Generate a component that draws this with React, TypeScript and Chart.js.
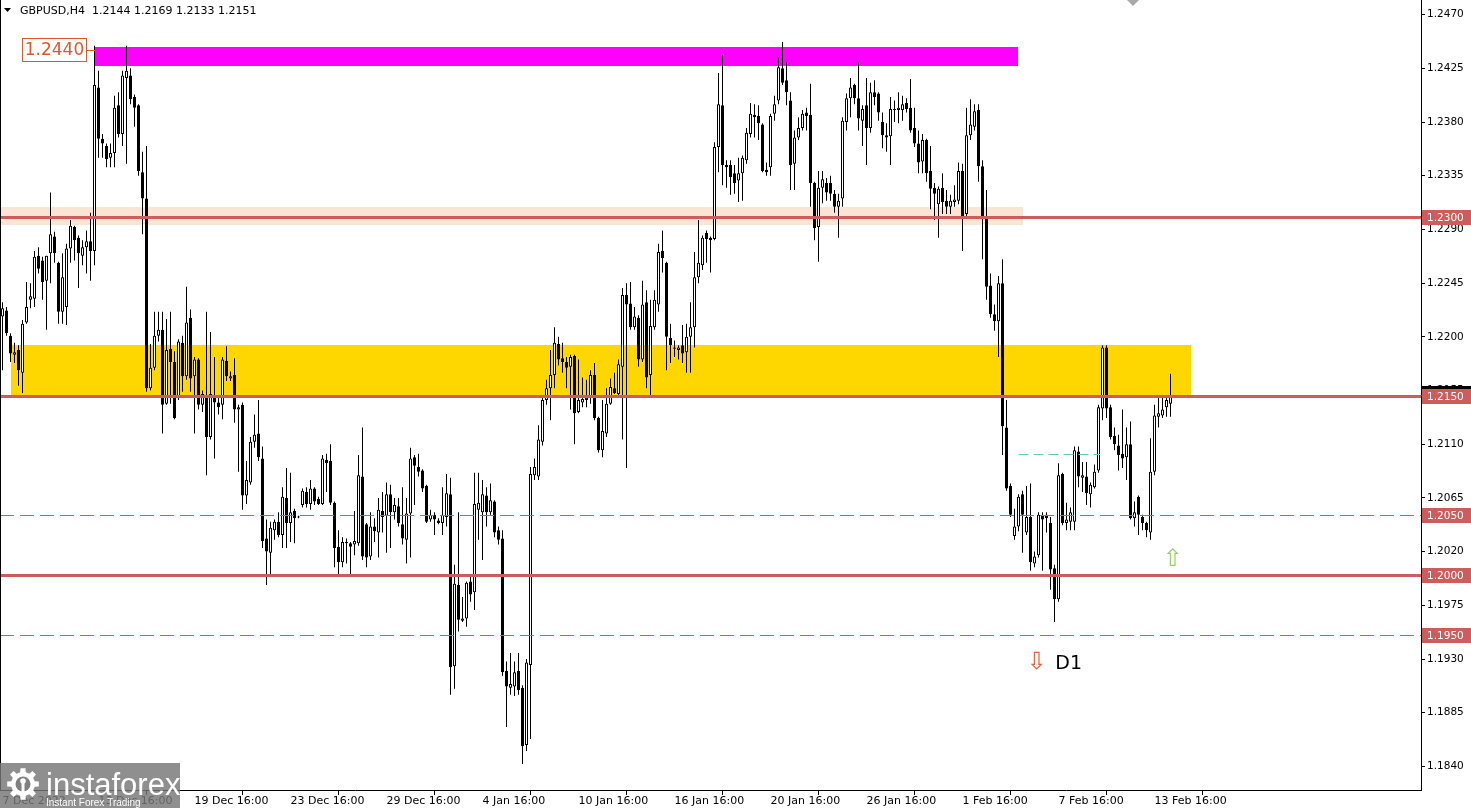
import { useEffect, useRef } from "react";
import { Chart, registerables } from "chart.js";

Chart.register(...registerables);

// ---- candle data (GBPUSD H4), bar index 0 = 7 Dec 2022 16:00 ----
const opens = [
  1.2217,1.2222,1.2201,1.2185,1.2189,1.2170,1.2212,1.2231,1.2232,1.2268,
  1.2264,1.2247,1.2270,1.2284,1.2262,1.2221,1.2225,1.2274,1.2292,1.2283,
  1.2268,1.2275,1.2280,1.2272,1.2409,1.2366,1.2360,1.2350,1.2354,1.2394,
  1.2370,1.2417,1.2419,1.2401,1.2394,1.2338,1.2316,1.2157,1.2174,1.2201,
  1.2206,1.2144,1.2190,1.2179,1.2149,1.2195,1.2167,1.2216,1.2167,1.2181,
  1.2143,1.2150,1.2116,1.2150,1.2145,1.2143,1.2180,1.2165,1.2168,1.2139,
  1.2143,1.2067,1.2078,1.2112,1.2119,1.2098,1.2031,1.2019,1.2038,1.2045,
  1.2034,1.2065,1.2044,1.2054,1.2049,1.2059,1.2070,1.2060,1.2073,1.2064,
  1.2060,1.2097,1.2096,1.2061,1.2024,1.2011,1.2027,1.2027,1.2026,1.2027,
  1.2083,1.2043,1.2016,1.2041,1.2036,1.2054,1.2050,1.2068,1.2053,1.2058,
  1.2043,1.2030,1.2052,1.2099,1.2091,1.2088,1.2075,1.2047,1.2051,1.2046,
  1.2044,1.2049,1.2068,1.1924,1.1992,1.1962,1.1964,1.1995,1.1986,1.2055,
  1.2053,1.2067,1.2053,1.2062,1.2038,1.2031,1.1920,1.1906,1.1907,1.1920,
  1.1906,1.1858,1.1925,1.2084,1.2083,1.2112,1.2147,1.2157,1.2168,1.2194,
  1.2182,1.2179,1.2175,1.2184,1.2137,1.2145,1.2147,1.2149,1.2168,1.2132,
  1.2105,1.2119,1.2144,1.2157,1.2152,1.2175,1.2235,1.2228,1.2208,1.2216,
  1.2181,1.2229,1.2168,1.2208,1.2227,1.2272,1.2262,1.2199,1.2190,1.2189,
  1.2193,1.2187,1.2200,1.2208,1.2250,1.2260,1.2287,1.2283,1.2282,1.2359,
  1.2394,1.2344,1.2344,1.2337,1.2331,1.2337,1.2348,1.2370,1.2386,1.2385,
  1.2378,1.2340,1.2342,1.2387,1.2398,1.2425,1.2415,1.2398,1.2345,1.2367,
  1.2375,1.2388,1.2386,1.2329,1.2292,1.2325,1.2329,1.2329,1.2320,1.2309,
  1.2316,1.2380,1.2400,1.2411,1.2400,1.2381,1.2394,1.2375,1.2405,1.2404,
  1.2380,1.2369,1.2368,1.2390,1.2390,1.2390,1.2396,1.2392,1.2375,1.2362,
  1.2347,1.2365,1.2339,1.2325,1.2311,1.2325,1.2314,1.2309,1.2313,1.2314,
  1.2339,1.2303,1.2369,1.2376,1.2390,1.2343,1.2301,1.2243,1.2219,1.2213,
  1.2245,1.2124,1.2075,1.2033,1.2041,1.2068,1.2036,1.2049,1.2010,1.2017,
  1.2051,1.2051,1.2044,1.2006,1.1980,1.2085,1.2044,1.2045,1.2045,1.2104,
  1.2082,1.2083,1.2068,1.2074,1.2088,1.2140,1.2191,1.2141,1.2117,1.2109,
  1.2102,1.2099,1.2110,1.2048,1.2066,1.2049,1.2044,1.2036,1.2087,1.2133,
  1.2134,1.2141,1.2144,
];
const highs = [
  1.2229,1.2225,1.2203,1.2195,1.2193,1.2214,1.2246,1.2245,1.2272,1.2275,
  1.2267,1.2268,1.2321,1.2288,1.2263,1.2270,1.2278,1.2298,1.2293,1.2285,
  1.2281,1.2289,1.2304,1.2444,1.2423,1.2370,1.2362,1.2362,1.2402,1.2405,
  1.2423,1.2444,1.2425,1.2403,1.2395,1.2355,1.2360,1.2194,1.2221,1.2221,
  1.2221,1.2215,1.2221,1.2188,1.2198,1.2201,1.2242,1.2223,1.2183,1.2182,
  1.2155,1.2221,1.2204,1.2183,1.2151,1.2183,1.2192,1.2171,1.2182,1.2143,
  1.2145,1.2096,1.2116,1.2135,1.2147,1.2108,1.2047,1.2045,1.2047,1.2053,
  1.2074,1.2090,1.2086,1.2056,1.2050,1.2073,1.2074,1.2080,1.2074,1.2066,
  1.2101,1.2102,1.2110,1.2062,1.2038,1.2032,1.2031,1.2028,1.2054,1.2101,
  1.2124,1.2044,1.2053,1.2048,1.2065,1.2070,1.2078,1.2076,1.2065,1.2065,
  1.2074,1.2065,1.2107,1.2101,1.2102,1.2089,1.2076,1.2055,1.2053,1.2048,
  1.2074,1.2085,1.2082,1.2009,1.2053,1.1982,1.1995,1.1999,1.2086,1.2086,
  1.2080,1.2074,1.2077,1.2063,1.2041,1.2038,1.1928,1.1935,1.1928,1.1935,
  1.1908,1.1930,1.2091,1.2098,1.2126,1.2151,1.2164,1.2189,1.2208,1.2200,
  1.2195,1.2183,1.2185,1.2185,1.2181,1.2166,1.2164,1.2172,1.2178,1.2133,
  1.2147,1.2157,1.2165,1.2170,1.2181,1.2241,1.2245,1.2246,1.2225,1.2218,
  1.2247,1.2239,1.2231,1.2239,1.2278,1.2289,1.2263,1.2211,1.2197,1.2193,
  1.2210,1.2211,1.2229,1.2271,1.2298,1.2285,1.2289,1.2284,1.2363,1.2421,
  1.2436,1.2348,1.2348,1.2344,1.2350,1.2352,1.2375,1.2396,1.2395,1.2394,
  1.2379,1.2346,1.2387,1.2402,1.2434,1.2447,1.2430,1.2405,1.2373,1.2384,
  1.2390,1.2392,1.2412,1.2330,1.2339,1.2339,1.2333,1.2335,1.2323,1.2320,
  1.2384,1.2404,1.2417,1.2412,1.2430,1.2394,1.2417,1.2413,1.2415,1.2405,
  1.2388,1.2379,1.2401,1.2398,1.2405,1.2402,1.2400,1.2416,1.2392,1.2373,
  1.2370,1.2366,1.2360,1.2329,1.2326,1.2337,1.2323,1.2319,1.2327,1.2346,
  1.2345,1.2392,1.2399,1.2395,1.2395,1.2348,1.2323,1.2253,1.2227,1.2251,
  1.2265,1.2147,1.2077,1.2056,1.2068,1.2071,1.2075,1.2077,1.2020,1.2053,
  1.2053,1.2053,1.2049,1.2009,1.2094,1.2086,1.2061,1.2057,1.2108,1.2108,
  1.2095,1.2095,1.2078,1.2093,1.2143,1.2193,1.2193,1.2143,1.2124,1.2118,
  1.2139,1.2124,1.2129,1.2062,1.2067,1.2051,1.2045,1.2115,1.2143,1.2149,
  1.2151,1.2151,1.2169,
];
const lows = [
  1.2172,1.2201,1.2179,1.2178,1.2159,1.2153,1.2211,1.2224,1.2225,1.2253,
  1.2231,1.2206,1.2245,1.2262,1.2211,1.2211,1.2210,1.2262,1.2264,1.2241,
  1.2260,1.2253,1.2247,1.2260,1.2350,1.2350,1.2342,1.2342,1.2342,1.2367,
  1.2360,1.2345,1.2395,1.2376,1.2335,1.2286,1.2154,1.2155,1.2172,1.2196,
  1.2119,1.2143,1.2144,1.2131,1.2147,1.2154,1.2164,1.2154,1.2119,1.2139,
  1.2137,1.2084,1.2114,1.2098,1.2135,1.2131,1.2163,1.2163,1.2128,1.2087,
  1.2055,1.2060,1.2076,1.2107,1.2096,1.2023,1.1992,1.2001,1.2030,1.2032,
  1.2023,1.2023,1.2028,1.2027,1.2048,1.2057,1.2057,1.2055,1.2059,1.2059,
  1.2059,1.2070,1.2059,1.2007,1.2001,1.2007,1.2010,1.2001,1.2017,1.2025,
  1.2013,1.2007,1.2013,1.2028,1.2015,1.2036,1.2019,1.2023,1.2047,1.2041,
  1.2026,1.2010,1.2015,1.2059,1.2083,1.2070,1.2044,1.2045,1.2034,1.2043,
  1.2034,1.2041,1.1900,1.1905,1.1953,1.1961,1.1957,1.1978,1.1971,1.2030,
  1.2013,1.2041,1.2051,1.2032,1.2026,1.1916,1.1873,1.1900,1.1899,1.1900,
  1.1842,1.1853,1.1863,1.2080,1.2080,1.2109,1.2143,1.2130,1.2157,1.2176,
  1.2170,1.2157,1.2139,1.2110,1.2136,1.2141,1.2141,1.2144,1.2130,1.2103,
  1.2099,1.2116,1.2143,1.2152,1.2151,1.2114,1.2090,1.2206,1.2206,1.2175,
  1.2179,1.2157,1.2151,1.2206,1.2221,1.2254,1.2172,1.2178,1.2183,1.2181,
  1.2178,1.2170,1.2170,1.2191,1.2245,1.2256,1.2262,1.2254,1.2281,1.2338,
  1.2327,1.2325,1.2319,1.2320,1.2313,1.2314,1.2345,1.2367,1.2367,1.2365,
  1.2338,1.2335,1.2335,1.2381,1.2395,1.2411,1.2394,1.2323,1.2323,1.2365,
  1.2373,1.2373,1.2309,1.2281,1.2263,1.2312,1.2314,1.2314,1.2304,1.2283,
  1.2309,1.2373,1.2384,1.2395,1.2373,1.2360,1.2344,1.2371,1.2394,1.2381,
  1.2358,1.2355,1.2344,1.2380,1.2379,1.2381,1.2388,1.2371,1.2359,1.2337,
  1.2337,1.2330,1.2307,1.2298,1.2283,1.2303,1.2303,1.2303,1.2309,1.2311,
  1.2272,1.2299,1.2365,1.2373,1.2330,1.2265,1.2231,1.2216,1.2205,1.2183,
  1.2101,1.2071,1.2049,1.2030,1.2037,1.2019,1.2034,1.2004,1.2007,1.2015,
  1.2004,1.2036,1.1988,1.1961,1.1978,1.2042,1.2038,1.2038,1.2038,1.2074,
  1.2070,1.2059,1.2057,1.2073,1.2086,1.2130,1.2132,1.2114,1.2105,1.2088,
  1.2090,1.2080,1.2047,1.2041,1.2034,1.2038,1.2032,1.2030,1.2084,1.2124,
  1.2132,1.2133,1.2133,
];
const closes = [
  1.2224,1.2203,1.2186,1.2187,1.2172,1.2211,1.2225,1.2234,1.2267,1.2257,
  1.2246,1.2268,1.2286,1.2270,1.2221,1.2250,1.2274,1.2293,1.2281,1.2270,
  1.2275,1.2280,1.2272,1.2411,1.2366,1.2362,1.2349,1.2354,1.2392,1.2370,
  1.2419,1.2423,1.2399,1.2392,1.2339,1.2316,1.2157,1.2174,1.2201,1.2206,
  1.2143,1.2189,1.2179,1.2132,1.2196,1.2167,1.2212,1.2165,1.2181,1.2143,
  1.2152,1.2116,1.2152,1.2145,1.2141,1.2181,1.2167,1.2167,1.2139,1.2141,
  1.2067,1.2080,1.2112,1.2118,1.2099,1.2029,1.2020,1.2040,1.2045,1.2034,
  1.2066,1.2044,1.2053,1.2048,1.2049,1.2071,1.2060,1.2073,1.2062,1.2060,
  1.2098,1.2094,1.2061,1.2023,1.2011,1.2028,1.2028,1.2024,1.2029,1.2084,
  1.2016,1.2015,1.2041,1.2037,1.2055,1.2049,1.2068,1.2053,1.2059,1.2044,
  1.2031,1.2052,1.2098,1.2092,1.2087,1.2073,1.2045,1.2051,1.2047,1.2044,
  1.2051,1.2069,1.1923,1.1993,1.1963,1.1964,1.1994,1.1984,1.2060,1.2061,
  1.2068,1.2053,1.2063,1.2036,1.2030,1.1919,1.1907,1.1909,1.1919,1.1904,
  1.1857,1.1927,1.2085,1.2091,1.2114,1.2147,1.2157,1.2168,1.2195,1.2181,
  1.2179,1.2174,1.2183,1.2136,1.2147,1.2148,1.2149,1.2168,1.2132,1.2105,
  1.2121,1.2144,1.2158,1.2153,1.2177,1.2235,1.2227,1.2208,1.2217,1.2181,
  1.2227,1.2166,1.2209,1.2231,1.2271,1.2266,1.2200,1.2193,1.2191,1.2191,
  1.2186,1.2200,1.2208,1.2250,1.2262,1.2283,1.2282,1.2281,1.2359,1.2395,
  1.2344,1.2342,1.2334,1.2329,1.2337,1.2350,1.2371,1.2387,1.2384,1.2379,
  1.2339,1.2338,1.2385,1.2395,1.2426,1.2413,1.2405,1.2344,1.2367,1.2375,
  1.2387,1.2385,1.2329,1.2291,1.2325,1.2332,1.2321,1.2320,1.2309,1.2314,
  1.2381,1.2400,1.2409,1.2400,1.2383,1.2391,1.2375,1.2405,1.2401,1.2388,
  1.2369,1.2367,1.2391,1.2391,1.2392,1.2395,1.2391,1.2373,1.2362,1.2346,
  1.2365,1.2337,1.2324,1.2320,1.2324,1.2313,1.2309,1.2314,1.2315,1.2339,
  1.2301,1.2369,1.2378,1.2389,1.2343,1.2301,1.2242,1.2219,1.2213,1.2245,
  1.2125,1.2073,1.2051,1.2041,1.2066,1.2051,1.2049,1.2011,1.2016,1.2051,
  1.2047,1.2048,1.2005,1.1980,1.2084,1.2044,1.2047,1.2053,1.2105,1.2083,
  1.2084,1.2069,1.2076,1.2087,1.2141,1.2191,1.2140,1.2116,1.2110,1.2101,
  1.2098,1.2110,1.2048,1.2053,1.2051,1.2044,1.2038,1.2087,1.2134,1.2136,
  1.2139,1.2147,1.2151,
];

// ---- axes ----
const xTickBars = [0, 24, 48, 72, 96, 120, 144, 168, 192, 216, 240, 264, 288];
const xTickLabels = [
  "7 Dec 2022", "13 Dec 16:00", "19 Dec 16:00", "23 Dec 16:00", "29 Dec 16:00",
  "4 Jan 16:00", "10 Jan 16:00", "16 Jan 16:00", "20 Jan 16:00", "26 Jan 16:00",
  "1 Feb 16:00", "7 Feb 16:00", "13 Feb 16:00",
];
const priceTicks = [
  1.247, 1.2425, 1.238, 1.2335, 1.229, 1.2245, 1.22, 1.2155,
  1.211, 1.2065, 1.202, 1.1975, 1.193, 1.1885, 1.184,
];

// ---- drawn objects ----
const levelPrices = [1.23, 1.215, 1.205, 1.2, 1.195];
const levelDashed = [false, false, true, false, true];

const zoneFromBar = [-1, 2, 23];
const zoneToBar = [255, 297, 254];
const zoneLow = [1.2294, 1.215, 1.2427];
const zoneHigh = [1.2309, 1.2193, 1.2443];
const zoneColors = ["#FAE5D3", "#FFD700", "#FF00FF"];

const peakLabelPrice = 1.244;
const pivotPrice = 1.2101;
const pivotFromBar = 254;
const pivotToBar = 274.4;
const downArrowBar = 258.6;
const downArrowPrice = 1.1927;
const d1TextBar = 263.2;
const upArrowBar = 292.6;
const upArrowPrice = 1.2013;

const titleText = "GBPUSD,H4  1.2144 1.2169 1.2133 1.2151";

const Y_MIN = 1.182024;
const Y_MAX = 1.248226;
const X_MIN = -0.625;
const X_MAX = 354.625;
const FAMILY = "'DejaVu Sans', Tahoma, sans-serif";
const LEVEL_COLOR = "#CD5C5C";

function bodySpan(i: number): number[] {
  const o = opens[i];
  const c = closes[i];
  if (Math.abs(o - c) < 0.00008) {
    const m = (o + c) / 2;
    return [m - 0.00005, m + 0.00005];
  }
  return [o, c];
}

function drawGear(ctx: CanvasRenderingContext2D, cx: number, cy: number) {
  ctx.save();
  ctx.fillStyle = "#ffffff";
  ctx.beginPath();
  const teeth = 8;
  for (let k = 0; k < teeth * 2; k++) {
    const ang = (k / (teeth * 2)) * Math.PI * 2 - Math.PI / 2;
    const r = k % 2 === 0 ? 16 : 12;
    const a1 = ang - (Math.PI / (teeth * 2)) * 0.8;
    const a2 = ang + (Math.PI / (teeth * 2)) * 0.8;
    ctx.lineTo(cx + r * Math.cos(a1), cy + r * Math.sin(a1));
    ctx.lineTo(cx + r * Math.cos(a2), cy + r * Math.sin(a2));
  }
  ctx.closePath();
  ctx.fill();
  ctx.fillStyle = "rgb(128,128,128)";
  ctx.beginPath();
  ctx.arc(cx, cy, 7.5, 0, Math.PI * 2);
  ctx.fill();
  ctx.fillStyle = "#ffffff";
  ctx.beginPath();
  ctx.arc(cx, cy - 3, 2.8, 0, Math.PI * 2);
  ctx.fill();
  ctx.fillRect(cx - 1.5, cy - 1, 3, 9);
  ctx.restore();
}

const overlayPlugin = {
  id: "mtOverlay",
  beforeDatasetsDraw(chart: any) {
    const { ctx, chartArea: a, scales } = chart;
    const xs = scales.x;
    const ys = scales.y;
    ctx.save();
    ctx.beginPath();
    ctx.rect(a.left, a.top, a.right - a.left, a.bottom - a.top);
    ctx.clip();
    for (let k = 0; k < zoneColors.length; k++) {
      const x1 = Math.round(xs.getPixelForValue(zoneFromBar[k]));
      const x2 = Math.round(xs.getPixelForValue(zoneToBar[k]));
      const y1 = Math.round(ys.getPixelForValue(zoneHigh[k]));
      const y2 = Math.round(ys.getPixelForValue(zoneLow[k]));
      ctx.fillStyle = zoneColors[k];
      ctx.fillRect(x1, y1, x2 - x1, y2 - y1);
    }
    ctx.restore();
  },
  afterDatasetsDraw(chart: any) {
    const { ctx, chartArea: a, scales } = chart;
    const xs = scales.x;
    const ys = scales.y;
    ctx.save();
    ctx.beginPath();
    ctx.rect(a.left, a.top, a.right - a.left, a.bottom - a.top);
    ctx.clip();

    // horizontal levels
    for (let k = 0; k < levelPrices.length; k++) {
      const py = Math.floor(ys.getPixelForValue(levelPrices[k])) + 0.5;
      ctx.strokeStyle = LEVEL_COLOR;
      ctx.lineWidth = levelDashed[k] ? 1 : 3;
      ctx.setLineDash(levelDashed[k] ? [14, 6] : []);
      ctx.beginPath();
      ctx.moveTo(a.left, py);
      ctx.lineTo(a.right, py);
      ctx.stroke();
    }
    ctx.setLineDash([]);

    // pivot dashed line
    const pv = Math.floor(ys.getPixelForValue(pivotPrice)) + 0.5;
    ctx.strokeStyle = "#66C7C7";
    ctx.lineWidth = 1;
    ctx.setLineDash([10, 5]);
    ctx.beginPath();
    ctx.moveTo(xs.getPixelForValue(pivotFromBar), pv);
    ctx.lineTo(xs.getPixelForValue(pivotToBar), pv);
    ctx.stroke();
    ctx.setLineDash([]);

    // peak price label
    const zx = Math.round(xs.getPixelForValue(zoneFromBar[2]));
    const ly = Math.round(ys.getPixelForValue(peakLabelPrice));
    const boxR = zx - 8;
    const boxL = boxR - 65;
    ctx.fillStyle = "#ffffff";
    ctx.fillRect(boxL, ly - 12, 65, 24);
    ctx.strokeStyle = "#E4572E";
    ctx.lineWidth = 1;
    ctx.strokeRect(boxL + 0.5, ly - 11.5, 64, 23);
    ctx.beginPath();
    ctx.moveTo(boxR, ly + 0.5);
    ctx.lineTo(zx, ly + 0.5);
    ctx.stroke();
    ctx.fillStyle = "#E4572E";
    ctx.font = `17px ${FAMILY}`;
    ctx.textAlign = "center";
    ctx.textBaseline = "middle";
    ctx.fillText(peakLabelPrice.toFixed(4), (boxL + boxR) / 2, ly + 1);

    // arrows and D1
    ctx.font = `24px ${FAMILY}`;
    ctx.fillStyle = "#E8603C";
    ctx.fillText("\u21E9", xs.getPixelForValue(downArrowBar), ys.getPixelForValue(downArrowPrice));
    ctx.fillStyle = "#9BCF6A";
    ctx.fillText("\u21E7", xs.getPixelForValue(upArrowBar), ys.getPixelForValue(upArrowPrice));
    ctx.fillStyle = "#000000";
    ctx.textAlign = "left";
    ctx.font = `19px ${FAMILY}`;
    ctx.fillText("D1", xs.getPixelForValue(d1TextBar), ys.getPixelForValue(downArrowPrice) + 1);

    ctx.restore();
  },
  afterDraw(chart: any) {
    const { ctx, chartArea: a, scales } = chart;
    const ys = scales.y;
    ctx.save();

    // left frame line
    ctx.strokeStyle = "#000000";
    ctx.lineWidth = 1;
    ctx.beginPath();
    ctx.moveTo(0.5, a.top);
    ctx.lineTo(0.5, a.bottom);
    ctx.stroke();

    // price labels on axis
    const labelX = a.right + 1;
    const labelW = chart.width - labelX;
    const by = Math.floor(ys.getPixelForValue(closes[closes.length - 1]));
    ctx.fillStyle = "#000000";
    ctx.fillRect(labelX, by - 9, labelW, 18);
    ctx.font = `10.5px ${FAMILY}`;
    ctx.textAlign = "left";
    ctx.textBaseline = "middle";
    for (let k = 0; k < levelPrices.length; k++) {
      const py = Math.floor(ys.getPixelForValue(levelPrices[k]));
      ctx.fillStyle = LEVEL_COLOR;
      ctx.fillRect(labelX, py - 7, labelW, 15);
      ctx.fillStyle = "#ffffff";
      ctx.fillText(levelPrices[k].toFixed(4), a.right + 6, py + 1);
    }

    // title
    ctx.fillStyle = "#000000";
    ctx.beginPath();
    ctx.moveTo(4, 8);
    ctx.lineTo(11, 8);
    ctx.lineTo(7.5, 12);
    ctx.closePath();
    ctx.fill();
    ctx.font = `11px ${FAMILY}`;
    ctx.fillText(titleText, 20, 11);

    // chart shift marker
    ctx.fillStyle = "#A8A8A8";
    ctx.beginPath();
    ctx.moveTo(1127, 0);
    ctx.lineTo(1139, 0);
    ctx.lineTo(1133, 6);
    ctx.closePath();
    ctx.fill();

    // watermark logo
    ctx.fillStyle = "rgba(118,118,118,0.82)";
    ctx.fillRect(0, 763, 180, 45);
    drawGear(ctx, 23, 784);
    ctx.fillStyle = "#ffffff";
    ctx.font = "31px 'Liberation Sans', Arial, sans-serif";
    ctx.textBaseline = "alphabetic";
    ctx.fillText("instaforex", 46, 795);
    ctx.font = "10px 'Liberation Sans', Arial, sans-serif";
    ctx.fillText("Instant Forex Trading", 46, 806);

    ctx.restore();
  },
};

export default function App() {
  const canvasRef = useRef<HTMLCanvasElement | null>(null);

  useEffect(() => {
    document.body.style.margin = "0";
    const canvas = canvasRef.current;
    if (!canvas) return;
    const bars = opens.map((_, i) => i);
    const chart = new Chart(canvas, {
      type: "bar",
      data: {
        datasets: [
          {
            label: "wicks",
            data: bars.map((i) => ({ x: i, y: [lows[i], highs[i]] })),
            backgroundColor: "#000000",
            borderWidth: 0,
            barThickness: 1,
            grouped: false,
            inflateAmount: 0,
            order: 2,
          } as any,
          {
            label: "bodies",
            data: bars.map((i) => ({ x: i, y: bodySpan(i) })),
            backgroundColor: bars.map((i) => (closes[i] >= opens[i] ? "#ffffff" : "#000000")),
            borderColor: "#000000",
            borderWidth: 1,
            borderSkipped: false,
            barThickness: 3,
            grouped: false,
            inflateAmount: 0,
            order: 1,
          } as any,
        ],
      },
      options: {
        responsive: false,
        animation: false,
        events: [],
        layout: { padding: 0 },
        plugins: {
          legend: { display: false },
          tooltip: { enabled: false },
        },
        scales: {
          x: {
            type: "linear",
            min: X_MIN,
            max: X_MAX,
            offset: false,
            grid: { display: true, drawOnChartArea: false, drawTicks: true, tickLength: 5, color: "#000000" },
            border: { display: true, color: "#000000" },
            ticks: {
              autoSkip: false,
              maxRotation: 0,
              minRotation: 0,
              align: "start",
              padding: 0,
              color: "#000000",
              font: { family: FAMILY, size: 11 },
              callback: (_v: any, idx: number) => xTickLabels[idx] ?? "",
            },
            afterBuildTicks: (s: any) => {
              s.ticks = xTickBars.map((v) => ({ value: v }));
            },
            afterFit: (s: any) => {
              s.height = 18;
              s.paddingLeft = 0;
              s.paddingRight = 0;
            },
          },
          y: {
            type: "linear",
            position: "right",
            min: Y_MIN,
            max: Y_MAX,
            grid: { display: true, drawOnChartArea: false, drawTicks: true, tickLength: 4, color: "#000000" },
            border: { display: true, color: "#000000" },
            ticks: {
              padding: 2,
              color: "#000000",
              font: { family: FAMILY, size: 10.5 },
              callback: (v: any) => Number(v).toFixed(4),
            },
            afterBuildTicks: (s: any) => {
              s.ticks = priceTicks.map((v) => ({ value: v }));
            },
            afterFit: (s: any) => {
              s.width = 50;
              s.paddingTop = 0;
              s.paddingBottom = 0;
            },
          },
        },
      } as any,
      plugins: [overlayPlugin as any],
    });
    return () => chart.destroy();
  }, []);

  return (
    <div style={{ position: "absolute", left: 0, top: 0, width: 1471, height: 808, background: "#ffffff" }}>
      <canvas ref={canvasRef} width={1471} height={808} style={{ display: "block", width: 1471, height: 808 }} />
    </div>
  );
}
